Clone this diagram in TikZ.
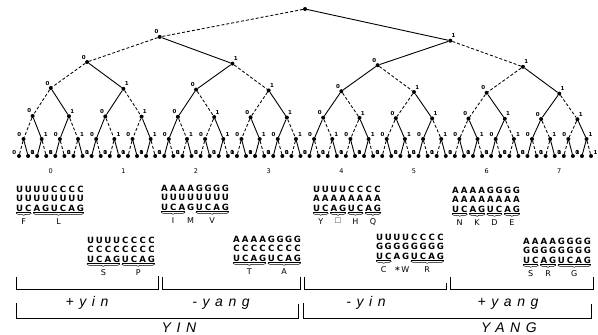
\documentclass[tikz,border=0pt]{standalone}
\usepackage{amsmath}
\usepackage{amssymb}
\usepackage{fontspec}
\setsansfont{DejaVu Sans}
\newfontfamily\yyfont[LetterSpace=40]{Liberation Sans}
\usetikzlibrary{decorations.pathreplacing}

\newcommand\spread[1]{\expandafter\spreadi#1\relax}
\def\spreadi#1{\ifx#1\relax\else\makebox[8.7pt]{#1}\expandafter\spreadi\fi}

\begin{document}
\begin{tikzpicture}[x=1pt, y=-1pt,
  dot/.style={circle, fill, inner sep=0pt, minimum size=4pt},
  bit/.style={font=\sffamily\bfseries\fontsize{5.5}{5.5}\selectfont, inner sep=0.6pt},
  p0/.style={line width=0.85pt, dash pattern=on 3pt off 2pt},
  p1/.style={line width=0.9pt},
  grp/.style={font=\sffamily\fontsize{6.5}{6.5}\selectfont, inner sep=0pt},
  codon/.style={anchor=west, inner sep=0pt, font=\sffamily\bfseries\fontsize{8.6}{8.6}\selectfont},
  aa/.style={anchor=north, inner sep=0pt, font=\sffamily\fontsize{8}{8}\selectfont},
  brc/.style={decorate, decoration={brace, mirror, amplitude=2pt}, line width=0.5pt},
  brk/.style={line width=0.7pt},
  yylbl/.style={anchor=base, inner sep=0pt, font=\yyfont\itshape\fontsize{14}{14}\selectfont}
]
\useasboundingbox (0,0) rectangle (598,335);

\foreach \lv/\yb/\sl in {0/9/0, 1/38.8/0.013, 2/64.4/0.011, 3/90.8/0.011, 4/117.6/0.006, 5/139/0, 6/156/0} {
  \pgfmathtruncatemacro\nn{2^\lv-1}
  \pgfmathtruncatemacro\w{2^(6-\lv)}
  \foreach \k in {0,...,\nn} {
    \pgfmathsetmacro\xx{19+9.08*(\k*\w+(\w-1)/2)}
    \pgfmathsetmacro\yy{\yb+\sl*(\xx-305)}
    \pgfmathtruncatemacro\bit{mod(\k,2)}
    \pgfmathsetmacro\ang{\lv==6 ? 150 : (\lv==5 ? 130 : 105)}
    \pgfmathsetmacro\ang{\bit==0 ? \ang : 180-\ang}
    \ifnum\lv=0
      \node[dot] (t\lv-\k) at (\xx,\yy) {};
    \else
      \node[dot, label={[bit]\ang:\bit}] (t\lv-\k) at (\xx,\yy) {};
    \fi
  }
}
\foreach \lv in {1,...,6} {
  \pgfmathtruncatemacro\nn{2^\lv-1}
  \pgfmathtruncatemacro\up{\lv-1}
  \foreach \k in {0,...,\nn} {
    \pgfmathtruncatemacro\pk{floor(\k/2)}
    \pgfmathtruncatemacro\pty{mod(mod(\k,2)+mod(floor(\k/2),2)+mod(floor(\k/4),2)+mod(floor(\k/8),2)+mod(floor(\k/16),2)+mod(floor(\k/32),2),2)}
    \draw[p\pty] (t\up-\pk) -- (t\lv-\k);
  }
}
\foreach \g in {0,...,7}
  \node[grp] (g\g) at ({19+9.08*(8*\g+3.5)},171) {\g};

\foreach \bx/\by/\ra/\rb [count=\i] in {15/189/UUUUCCCC/UUUUUUUU, 86/240/UUUUCCCC/CCCCCCCC,
    160/188/AAAAGGGG/UUUUUUUU, 232/239/AAAAGGGG/CCCCCCCC, 312/189/UUUUCCCC/AAAAAAAA,
    375/237/UUUUCCCC/GGGGGGGG, 451/190/AAAAGGGG/AAAAAAAA, 522/241/AAAAGGGG/GGGGGGGG} {
  \node[codon] (r\i-1) at (\bx,\by) {\spread{\ra}};
  \node[codon] (r\i-2) at (\bx,\by+9.5) {\spread{\rb}};
  \node[codon] (r\i-3) at (\bx,\by+19) {\spread{UCAGUCAG}};
}
\foreach \bx/\by/\a/\b/\txt [count=\n] in {15/208/1/2/F, 15/208/3/8/L, 86/259/1/4/S, 86/259/5/8/P,
    160/207/1/3/I, 160/207/5/8/V, 232/258/1/4/T, 232/258/5/8/A,
    312/208/1/2/Y, 312/208/3/4/$\square$, 312/208/5/6/H, 312/208/7/8/Q,
    375/256/1/2/C, 375/256/5/8/R, 451/209/1/2/N, 451/209/3/4/K, 451/209/5/6/D, 451/209/7/8/E,
    522/260/1/2/S, 522/260/3/4/R, 522/260/5/8/G} {
  \draw[line width=0.45pt] ({\bx+(\a-1)*8.7+1},\by+4.3) -- ({\bx+\b*8.7-1},\by+4.3);
  \draw[brc] ({\bx+(\a-1)*8.7+1},\by+5.3) -- ({\bx+\b*8.7-1},\by+5.3);
  \node[aa] (aa\n) at ({\bx+(\a+\b-1)/2*8.7},\by+10) {\txt};
}
\node[aa] (aaM) at ({160+3.5*8.7},217) {M};
\node[anchor=center, inner sep=0pt] (aaX) at ({375+2.6*8.7},269.5) {\fontsize{10}{10}\selectfont$\boldsymbol{\ast}$};
\node[aa] (aaW) at ({375+3.5*8.7},266) {W};

\draw[brk] (16,277) |- (158,289) -- (158,276);
\draw[brk] (162,277) |- (300,289) -- (300,277);
\draw[brk] (304,277) |- (446,289) -- (446,283);
\draw[brk] (450,277) |- (593,289) -- (593,277);
\draw[brk] (16,303) |- (298,318) -- (298,304);
\draw[brk] (303,303) |- (591,318) -- (591,304);
\node[yylbl] (pyin) at (87,306) {+yin};
\node[yylbl] (myang) at (221,306) {-yang};
\node[yylbl] (myin) at (366,306) {-yin};
\node[yylbl] (pyang) at (508,306) {+yang};
\node[yylbl] (yin) at (179,332) {YIN};
\node[yylbl] (yang) at (509,332) {YANG};
\end{tikzpicture}
\end{document}
